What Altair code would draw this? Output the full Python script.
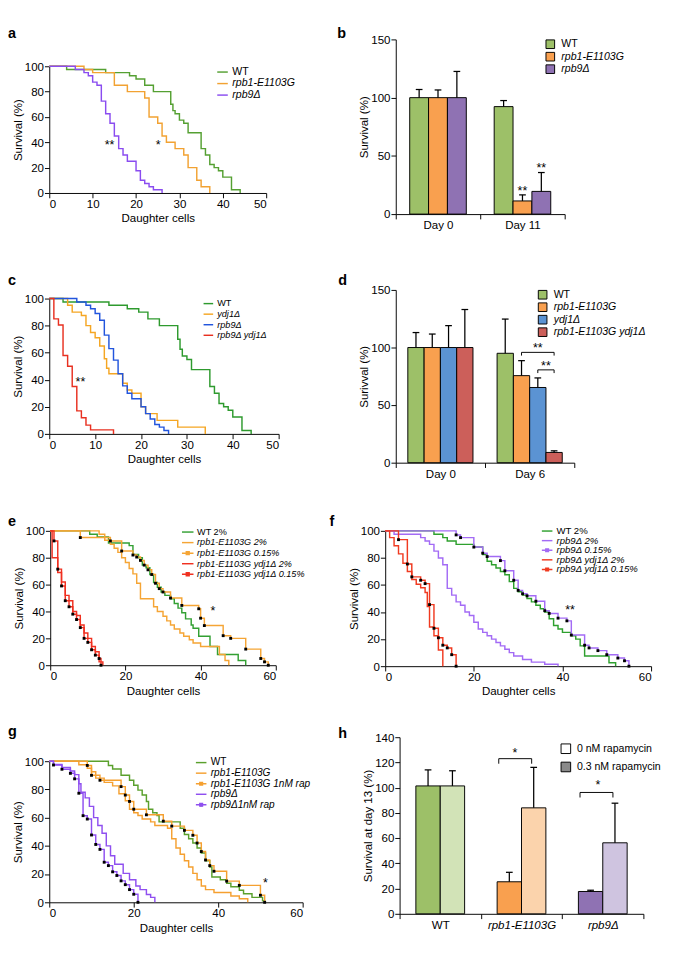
import altair as alt
import pandas as pd

FONT = "Liberation Sans"

# ---------------- Panel a ----------------
a_names = ["WT", "rpb1-E1103G", "rpb9Δ"]
a_colors = ["#55a032", "#f2a232", "#8a4cf0"]
a_wt_x = [0, 4, 13, 18.5, 20, 22, 24, 28, 28.5, 29, 30, 31, 32, 35, 36, 37, 38, 39, 40, 42, 44]
a_wt_y = [100, 97.5, 95, 92.5, 90, 85, 80, 70, 65, 62.5, 57.5, 55, 47.5, 35, 30, 22.5, 20, 17.5, 12.5, 2.5, 0]
a_rpb1_x = [0, 8, 10, 15, 18, 22, 23, 25, 26, 27, 29, 31, 32, 34, 35, 37]
a_rpb1_y = [100, 97.5, 95, 85, 80, 75, 60, 55, 45, 40, 35, 30, 20, 10, 5, 0]
a_rpb9_x = [0, 6, 8, 9, 10, 11, 12, 13, 14, 15, 16, 17, 18, 20, 21, 22, 23, 24, 26]
a_rpb9_y = [100, 97.5, 95, 92.5, 87.5, 85, 72.5, 62.5, 55, 45, 35, 30, 25, 17.5, 10, 7.5, 5, 2.5, 0]
a_star_x = [13.9, 25.1]
a_star_y = [40, 40]
a_star_t = ["**", "*"]

# ---------------- Panel c ----------------
c_names = ["WT", "ydj1Δ", "rpb9Δ", "rpb9Δ ydj1Δ"]
c_colors = ["#2e9a2e", "#f5a623", "#2255dd", "#e83020"]
c_wt_x = [0, 3, 13, 17, 19.5, 21.5, 24, 28, 28.5, 29, 30, 31, 35, 36, 37, 38, 39, 40, 42, 44]
c_wt_y = [100, 97.5, 95, 92.5, 90, 85, 80, 70, 62.5, 57.5, 55, 47.5, 35, 30, 22.5, 20, 17.5, 12.5, 2.5, 0]
c_ydj_x = [0, 4, 5, 7, 8, 9, 10, 11, 12, 12.5, 13, 16, 17, 18, 20, 21, 23.5, 28, 34]
c_ydj_y = [100, 95, 90, 87.5, 80, 75, 71, 65, 55.5, 48.5, 44.5, 37.5, 32.5, 30, 20, 15, 10, 5, 0]
c_rpb9_x = [0, 6, 8, 9, 10, 11, 12, 13, 14, 15, 16, 17, 18, 20, 21, 22, 23, 24, 25, 26]
c_rpb9_y = [100, 97.5, 95, 92.5, 89, 84, 73, 63, 54.5, 44.5, 35.5, 30, 26, 20, 15, 11, 7, 5, 2.5, 0]
c_dbl_x = [0, 1, 2, 3, 4, 5, 6, 7, 8, 9, 14]
c_dbl_y = [100, 85, 80.5, 58, 50, 35, 17, 12, 6.5, 3, 0]
c_star_x = [6.8]
c_star_y = [40]
c_star_t = ["**"]

# ---------------- Panel e ----------------
e_names = ["WT 2%", "rpb1-E1103G 2%", "rpb1-E1103G 0.15%", "rpb1-E1103G ydj1Δ 2%", "rpb1-E1103G ydj1Δ 0.15%"]
e_colors = ["#33a033", "#f5a535", "#f5a535", "#f03020", "#f03020"]
e_dotted = ["rpb1-E1103G 0.15%", "rpb1-E1103G ydj1Δ 0.15%"]
e_wt_x = [0, 10.5, 12.5, 15.5, 21, 22, 23.5, 24.5, 25.5, 26.5, 27.5, 28.5, 29.5, 30.5, 32, 33, 34, 35, 36, 37.5, 38, 39.5, 42.5, 44.5, 50, 52]
e_wt_y = [100, 97.5, 95.5, 91, 89, 82.5, 80, 74.5, 72.5, 67.5, 61.5, 58, 54.5, 52, 49.5, 46, 42.5, 39, 34.5, 30, 27.5, 21.5, 14, 8, 3.5, 0]
e_o2_x = [0, 13, 14.5, 16, 17, 18, 19, 20, 21, 22, 23, 24, 27.5, 28.5, 30, 31, 32, 33, 34.5, 35.5, 37, 38, 40, 45, 46.5, 47.5]
e_o2_y = [100, 97.5, 93, 90, 87, 84, 80, 76.5, 72, 68, 61, 49.5, 43.5, 40, 36.5, 33, 30, 27, 24, 21.5, 19, 16.5, 14, 8, 3.5, 0]
e_o15_x = [0, 8, 16, 19, 22, 23, 24, 25, 26, 27, 28, 29, 30, 32, 35, 39.5, 40, 41, 46, 48, 52, 56, 57, 58]
e_o15_y = [100, 95, 92.5, 85, 82, 80.5, 78, 74.5, 71, 67.5, 61, 57, 54.5, 50, 44.5, 42, 35, 29.5, 22, 20, 12, 5, 2.5, 0]
e_r2_x = [0, 0.5, 2, 3, 4, 5, 6, 7, 8, 9, 10, 11, 12, 13, 14]
e_r2_y = [100, 80, 69, 62, 52, 48, 40, 37, 30, 24, 20, 14, 10, 2.5, 0]
e_r15_x = [0, 1, 2, 3, 4, 5, 6, 7, 8, 9, 10, 11, 12, 13, 13.5]
e_r15_y = [100, 92.5, 71.5, 59, 48, 43.5, 38, 34, 28, 20, 17, 11.5, 7.5, 5, 0]
e_star_x = [43.3]
e_star_y = [42.7]
e_star_t = ["*"]

# ---------------- Panel f ----------------
f_names = ["WT 2%", "rpb9Δ 2%", "rpb9Δ 0.15%", "rpb9Δ ydj1Δ 2%", "rpb9Δ ydj1Δ 0.15%"]
f_colors = ["#2ea02e", "#a36bf5", "#a36bf5", "#f03a20", "#f03a20"]
f_dotted = ["rpb9Δ 0.15%", "rpb9Δ ydj1Δ 0.15%"]
f_wt_x = [0, 11, 13, 14, 16, 20, 22, 23, 24, 25, 26, 27, 28, 29, 30, 31, 32, 33, 34, 35, 36, 37, 38, 39, 40, 42, 43, 44, 45, 50.5, 52]
f_wt_y = [100, 97.5, 95, 92.5, 90, 88, 82.5, 77.5, 75, 72.5, 70, 67.5, 62.5, 57.5, 55, 52.5, 50, 47.5, 45, 42.5, 40, 35, 30, 27.5, 25, 22.5, 20, 15, 7.5, 2.5, 0]
f_p2_x = [0, 2, 8, 9, 10, 11, 12, 13, 14, 15, 16, 17, 18, 19, 20, 21, 22, 23, 24, 25, 26, 27, 28, 29, 31, 33, 36, 39]
f_p2_y = [100, 97.5, 95, 92.5, 90, 85, 80, 75, 57.5, 52.5, 47.5, 45, 40, 37.5, 32.5, 27.5, 25, 22.5, 20, 17.5, 15, 12.5, 10, 7.5, 5, 3, 1.5, 0]
f_p15_x = [0, 16, 17, 20, 22, 23, 26, 27, 29, 30, 31, 32, 34, 36, 37, 39, 41, 42, 45, 46, 48, 50, 52.5, 54, 55]
f_p15_y = [100, 97, 95, 88, 83.5, 81, 78, 70.5, 63.5, 56, 53.5, 52, 48, 41, 39, 35.5, 33.5, 23, 15.5, 13.5, 11.5, 8.5, 6, 4, 0]
f_r2_x = [0, 1, 2, 3, 4, 5, 6, 7, 8, 9, 9.5, 10, 11, 12, 13]
f_r2_y = [100, 95, 89, 83, 76, 70, 64, 60.5, 58, 54.5, 44, 29, 22.5, 12, 0]
f_r15_x = [0, 3, 5, 6, 8, 9, 10, 11, 12, 13, 14, 15, 16]
f_r15_y = [100, 93.5, 75.5, 66, 63.5, 61, 45.5, 28, 21, 15.5, 13.5, 8.5, 0]
f_star_x = [41.7]
f_star_y = [43.3]
f_star_t = ["**"]

# ---------------- Panel g ----------------
g_names = ["WT", "rpb1-E1103G", "rpb1-E1103G 1nM rap", "rpb9Δ", "rpb9Δ1nM rap"]
g_colors = ["#5aa02c", "#f5a030", "#f5a030", "#8f4ff0", "#8f4ff0"]
g_dotted = ["rpb1-E1103G 1nM rap", "rpb9Δ1nM rap"]
g_wt_x = [0, 14, 15, 17, 19, 20, 21, 22, 23, 23.5, 24.5, 25.5, 26, 31, 32, 33, 34, 35, 36, 37, 38, 38.5, 40.5, 42, 43, 45, 46, 48, 50.5, 51]
g_wt_y = [100, 97, 94.5, 90, 86.5, 83, 79.5, 76, 71.5, 66, 63.5, 61.5, 57, 52.5, 48, 45, 42, 38.5, 35, 29.5, 25, 18, 16, 13.5, 11, 8.5, 6, 3.5, 1, 0]
g_o_x = [0, 7, 9, 10, 11, 13, 15, 16.5, 18, 19, 20, 21, 22, 24, 25, 28, 29, 30, 31, 32, 33, 34, 35, 36, 37, 39, 43, 45, 47]
g_o_y = [100, 97.5, 95, 92.5, 88, 85, 82.5, 77, 72, 66, 63.5, 61.5, 59, 57, 54.5, 52.5, 45, 38.5, 34, 29.5, 25, 20.5, 16, 11.5, 9, 7, 4.5, 2.5, 0]
g_o1_x = [0, 9, 10, 12, 17, 18, 19, 20, 23, 27, 29, 32, 34, 35, 36, 37, 38, 39, 42, 45, 50, 51]
g_o1_y = [100, 97, 90, 86.5, 82, 76, 71.5, 66, 62, 57.5, 54, 51, 47.5, 42, 36, 30, 26, 22, 15, 12, 5, 0]
g_p_x = [0, 1, 3, 5, 6, 7, 7.5, 8.5, 9.5, 10.5, 11.5, 12.5, 13.5, 14.5, 15.5, 17.5, 19, 20.5, 21.5, 23, 24, 25]
g_p_y = [100, 97.7, 95.5, 93, 90.5, 84, 78, 74, 68, 60, 54.5, 49, 40, 33, 27, 20.5, 16, 11.5, 9, 5.5, 3.5, 0]
g_p1_x = [0, 1, 3, 5, 6, 7, 8, 9, 10, 11, 12, 13, 14, 15, 16, 17, 18, 19, 20, 21]
g_p1_y = [100, 97.3, 94.3, 91.4, 87.5, 77.3, 61.4, 59, 47.7, 41, 37.5, 28.4, 26, 21.6, 19, 15.2, 12.5, 9, 5.7, 0]
g_star_x = [51.2]
g_star_y = [15.5]
g_star_t = ["*"]

# ---------------- Panel b ----------------
b_groups = ["Day 0", "Day 11"]
b_members = ["WT", "rpb1-E1103G", "rpb9Δ"]
b_colors = ["#9dc068", "#f9a04f", "#8f72b3"]
b_values = [100, 100, 100, 92.3, 11.3, 19.5]
b_errors = [7, 6.6, 22.5, 5.2, 5.2, 16.2]
b_star_member = ["rpb1-E1103G", "rpb9Δ"]
b_star_group = ["Day 11", "Day 11"]
b_star_y = [22.5, 42]
b_star_t = ["**", "**"]

# ---------------- Panel d ----------------
d_groups = ["Day 0", "Day 6"]
d_members = ["WT", "rpb1-E1103G", "ydj1Δ", "rpb1-E1103G ydj1Δ"]
d_colors = ["#9dc068", "#f9a04f", "#5b93d3", "#cc5f5a"]
d_values = [100, 100, 100, 100, 95, 75.6, 65.3, 8.9]
d_errors = [13, 11.7, 19, 33, 29.7, 13, 8.3, 1.4]
d_br_from = ["rpb1-E1103G", "ydj1Δ"]
d_br_to = ["rpb1-E1103G ydj1Δ", "rpb1-E1103G ydj1Δ"]
d_br_group = ["Day 6", "Day 6"]
d_br_y = [95.8, 80.6]
d_br_star_y = [102, 86.7]
d_br_t = ["**", "**"]

# ---------------- Panel h ----------------
h_groups = ["WT", "rpb1-E1103G", "rpb9Δ"]
h_members = ["0 nM rapamycin", "0.3 nM rapamycin"]
h_bar_colors = ["#9dc068", "#d2e3b7", "#f9a04f", "#fbd3ac", "#8f72b3", "#cfc4e0"]
h_legend_colors = ["white", "#8a8a8a"]
h_values = [101.4, 101.4, 25.4, 84, 17.7, 56.3]
h_errors = [12.7, 12, 7.5, 32.1, 1, 31.4]
h_br_group = ["rpb1-E1103G", "rpb9Δ"]
h_br_left = [-0.28, -0.28]
h_br_right = [0.125, 0.125]
h_br_y = [123, 96.2]
h_br_star_dx = [-0.08, -0.06]
h_br_star_y = [130, 104]
h_br_t = ["*", "*"]

# ---------------- layout (pixels) ----------------
W_LEFT, W_RIGHT = 332, 337
ROW_H = [254, 253, 219, 212]

LINE_PATH = "M-2,0H2"
DOT_PATH = "M-2,0H2M-0.5,-0.5H0.5V0.5H-0.5Z"


def letter_layer(letter, pos):
    return alt.Chart(pd.DataFrame({"t": [letter]})).mark_text(
        font=FONT, fontSize=15, fontWeight="bold", color="black", align="left",
        baseline="alphabetic").encode(x=alt.value(pos[0]), y=alt.value(pos[1]), text="t:N")


def curve_panel(letter, names, colors, curves, dotted, stars, xmax, xstep, W, R, geo, leg, lpos):
    x0, x1, yt, yb = geo
    frames = []
    for name, xs_, ys_ in curves:
        frames.append(pd.DataFrame({"series": name, "x": xs_, "y": ys_,
                                    "i": list(range(len(xs_)))}))
    df = pd.concat(frames, ignore_index=True)
    xsc = alt.Scale(domain=[0, xmax], nice=False, range=[x0, x1])
    ysc = alt.Scale(domain=[0, 100], nice=False, range=[yb, yt])
    xax = alt.Axis(values=list(range(0, xmax + 1, xstep)), title="Daughter cells", offset=-(R - yb))
    yax = alt.Axis(values=[0, 20, 40, 60, 80, 100], title="Survival (%)", offset=-x0)
    X = alt.X("x:Q", scale=xsc, axis=xax)
    Y = alt.Y("y:Q", scale=ysc, axis=yax)
    sscale = alt.Scale(domain=names, range=colors)
    lx, ly, fs, L = leg
    lg = alt.Legend(orient="none", legendX=lx, legendY=ly, title=None, labelFont=FONT,
                    labelFontSize=fs, labelColor="black",
                    labelFontStyle={"expr": "indexof(datum.label, 'WT') == 0 ? 'normal' : 'italic'"},
                    symbolSize=(L / 2) ** 2, symbolStrokeWidth=1.5, rowPadding=0,
                    labelOffset=L / 4 + 2, padding=0, symbolOpacity=1)
    layers = [alt.Chart(df).mark_line(interpolate="step-after", strokeWidth=1.5).encode(
        x=X, y=Y, stroke=alt.Stroke("series:N", scale=sscale, legend=lg), order="i:Q")]
    dots = df[df["series"].isin(dotted) & (df["i"] > 0)]
    if len(dots):
        layers.append(alt.Chart(dots).mark_square(size=9, color="black", opacity=1).encode(x=X, y=Y))
    st = pd.DataFrame({"x": stars[0], "y": stars[1], "t": stars[2]})
    layers.append(alt.Chart(st).mark_text(font=FONT, fontSize=13, color="black", dy=3).encode(
        x=X, y=Y, text="t:N"))
    shp = [DOT_PATH if n in dotted else LINE_PATH for n in names]
    ldf = pd.DataFrame({"series": names})
    layers.append(alt.Chart(ldf).mark_point(filled=True, fill="black", strokeWidth=1.5,
                                            clip=True).encode(
        x=alt.value(-300), y=alt.value(-300),
        stroke=alt.Stroke("series:N", scale=sscale, legend=lg),
        shape=alt.Shape("series:N", scale=alt.Scale(domain=names, range=shp), legend=lg)))
    layers.append(letter_layer(letter, lpos))
    return alt.layer(*layers).properties(width=W, height=R)


def bar_frame(groups, members, values, errors, gw):
    rows = []
    k = len(members)
    for gi, g in enumerate(groups):
        for j, m in enumerate(members):
            x0 = gi - gw / 2 + j * gw / k
            rows.append({"group": g, "member": m, "key": g + "|" + m, "x0": x0,
                         "x1": x0 + gw / k, "xc": x0 + gw / (2 * k)})
    df = pd.DataFrame(rows)
    df["v"] = values
    df["base"] = 0
    df["top"] = [v + e for v, e in zip(values, errors)]
    return df


def bar_scales(groups, R, geo, ymax, ystep, ytitle, italic_x):
    x0, x1, yt, yb = geo
    n = len(groups)
    arr = "[" + ",".join("'" + g + "'" for g in groups) + ",'']"
    fstyle = ({"condition": {"test": "datum.value > 0", "value": "italic"}, "value": "normal"}
              if italic_x else "normal")
    xsc = alt.Scale(domain=[-0.5, n - 0.5], nice=False, zero=False, range=[x0, x1])
    xax = alt.Axis(values=[i - 0.5 for i in range(n + 1)],
                   labelExpr=arr + "[round(datum.value + 0.5)]", labelOffset=(x1 - x0) / n / 2,
                   labelFlush=False, labelOverlap=False, title=None, labelFontStyle=fstyle,
                   offset=-(R - yb))
    ysc = alt.Scale(domain=[0, ymax], nice=False, range=[yb, yt])
    yax = alt.Axis(values=list(range(0, ymax + 1, ystep)), title=ytitle, offset=-x0)
    return xsc, xax, ysc, yax


def bar_common_layers(df, xsc, xax, ysc, yax, color):
    bars = alt.Chart(df).mark_bar(stroke="black", strokeWidth=1).encode(
        x=alt.X("x0:Q", scale=xsc, axis=xax), x2="x1:Q",
        y=alt.Y("v:Q", scale=ysc, axis=yax), y2="base:Q", color=color)
    err = alt.Chart(df).mark_rule(color="black", strokeWidth=1.3).encode(
        x=alt.X("xc:Q", scale=xsc, axis=xax), y=alt.Y("v:Q", scale=ysc, axis=yax), y2="top:Q")
    cap = alt.Chart(df).mark_point(shape="stroke", size=49, color="black", strokeWidth=1.3,
                                   opacity=1).encode(
        x=alt.X("xc:Q", scale=xsc, axis=xax), y=alt.Y("top:Q", scale=ysc, axis=yax))
    return [bars, err, cap]


def bracket_layers(xa, xb, yl, legs, xsc, xax, ysc, yax):
    bdf = pd.DataFrame({"xa": xa, "xb": xb, "yl": yl, "yd": [y - legs for y in yl]})
    hl = alt.Chart(bdf).mark_rule(color="black", strokeWidth=1).encode(
        x=alt.X("xa:Q", scale=xsc, axis=xax), x2="xb:Q", y=alt.Y("yl:Q", scale=ysc, axis=yax))
    l1 = alt.Chart(bdf).mark_rule(color="black", strokeWidth=1).encode(
        x=alt.X("xa:Q", scale=xsc, axis=xax), y=alt.Y("yl:Q", scale=ysc, axis=yax), y2="yd:Q")
    l2 = alt.Chart(bdf).mark_rule(color="black", strokeWidth=1).encode(
        x=alt.X("xb:Q", scale=xsc, axis=xax), y=alt.Y("yl:Q", scale=ysc, axis=yax), y2="yd:Q")
    return [hl, l1, l2]


def star_layer(xs_, ys_, ts, xsc, xax, ysc, yax):
    sdf = pd.DataFrame({"sx": xs_, "sy": ys_, "t": ts})
    return alt.Chart(sdf).mark_text(font=FONT, fontSize=13, color="black", dy=3).encode(
        x=alt.X("sx:Q", scale=xsc, axis=xax), y=alt.Y("sy:Q", scale=ysc, axis=yax), text="t:N")


def square_legend(lx, ly, size, rp, italic):
    style = ({"expr": "datum.label == 'WT' ? 'normal' : 'italic'"} if italic else "normal")
    return alt.Legend(orient="none", legendX=lx, legendY=ly, title=None, symbolType="square",
                      symbolSize=size, symbolStrokeColor="black", symbolStrokeWidth=1,
                      symbolOpacity=1, labelFont=FONT, labelFontSize=11, labelColor="black",
                      labelFontStyle=style, rowPadding=rp, labelOffset=6, padding=0)


# ---------- curve panels ----------
pa = curve_panel("a", a_names, a_colors,
                 [("WT", a_wt_x, a_wt_y), ("rpb1-E1103G", a_rpb1_x, a_rpb1_y), ("rpb9Δ", a_rpb9_x, a_rpb9_y)],
                 [], (a_star_x, a_star_y, a_star_t), 50, 10, W_LEFT, ROW_H[0],
                 (43, 269, 41, 173), (218, 41.5, 11, 11), (0, 12))
pc = curve_panel("c", c_names, c_colors,
                 [("WT", c_wt_x, c_wt_y), ("ydj1Δ", c_ydj_x, c_ydj_y), ("rpb9Δ", c_rpb9_x, c_rpb9_y),
                  ("rpb9Δ ydj1Δ", c_dbl_x, c_dbl_y)],
                 [], (c_star_x, c_star_y, c_star_t), 50, 10, W_LEFT, ROW_H[1],
                 (43, 282, 29, 170), (204, 29.5, 9.5, 10), (0, 15))
pe = curve_panel("e", e_names, e_colors,
                 [("WT 2%", e_wt_x, e_wt_y), ("rpb1-E1103G 2%", e_o2_x, e_o2_y),
                  ("rpb1-E1103G 0.15%", e_o15_x, e_o15_y), ("rpb1-E1103G ydj1Δ 2%", e_r2_x, e_r2_y),
                  ("rpb1-E1103G ydj1Δ 0.15%", e_r15_x, e_r15_y)],
                 e_dotted, (e_star_x, e_star_y, e_star_t), 60, 20, W_LEFT, ROW_H[2],
                 (44, 279, 18, 158), (182.5, 14.5, 9.5, 12), (0, 13))
pg = curve_panel("g", g_names, g_colors,
                 [("WT", g_wt_x, g_wt_y), ("rpb1-E1103G", g_o_x, g_o_y),
                  ("rpb1-E1103G 1nM rap", g_o1_x, g_o1_y), ("rpb9Δ", g_p_x, g_p_y),
                  ("rpb9Δ1nM rap", g_p1_x, g_p1_y)],
                 g_dotted, (g_star_x, g_star_y, g_star_t), 60, 20, W_LEFT, ROW_H[3],
                 (43, 307, 39, 186), (196, 35.2, 10.5, 11), (0, 13))
pf = curve_panel("f", f_names, f_colors,
                 [("WT 2%", f_wt_x, f_wt_y), ("rpb9Δ 2%", f_p2_x, f_p2_y),
                  ("rpb9Δ 0.15%", f_p15_x, f_p15_y), ("rpb9Δ ydj1Δ 2%", f_r2_x, f_r2_y),
                  ("rpb9Δ ydj1Δ 0.15%", f_r15_x, f_r15_y)],
                 f_dotted, (f_star_x, f_star_y, f_star_t), 60, 20, W_RIGHT, ROW_H[2],
                 (61, 338, 18, 159), (224.7, 13.2, 10, 11), (3, 13))

# ---------- panel b ----------
b_geo = (72, 248, 13, 195)
b_df = bar_frame(b_groups, b_members, b_values, b_errors, 0.67)
bx, bxa, by, bya = bar_scales(b_groups, ROW_H[0], b_geo, 150, 50, "Survival (%)", False)
b_color = alt.Color("member:N", scale=alt.Scale(domain=b_members, range=b_colors),
                    legend=square_legend(227.5, 12.5, 81, 0, True))
b_sx = [b_df[(b_df.group == g) & (b_df.member == m)].xc.iloc[0] for g, m in zip(b_star_group, b_star_member)]
pb = alt.layer(*bar_common_layers(b_df, bx, bxa, by, bya, b_color),
               star_layer(b_sx, b_star_y, b_star_t, bx, bxa, by, bya),
               letter_layer("b", (11, 12))).properties(width=W_RIGHT, height=ROW_H[0])

# ---------- panel d ----------
d_geo = (72, 258, 20, 200)
d_df = bar_frame(d_groups, d_members, d_values, d_errors, 0.73)
dx_, dxa, dy_, dya = bar_scales(d_groups, ROW_H[1], d_geo, 150, 50, "Surivval (%)", False)
d_color = alt.Color("member:N", scale=alt.Scale(domain=d_members, range=d_colors),
                    legend=square_legend(219.5, 19.5, 81, 0, True))
d_xa = [d_df[(d_df.group == g) & (d_df.member == m)].xc.iloc[0] for g, m in zip(d_br_group, d_br_from)]
d_xb = [d_df[(d_df.group == g) & (d_df.member == m)].xc.iloc[0] for g, m in zip(d_br_group, d_br_to)]
d_sx = [(a + b) / 2 for a, b in zip(d_xa, d_xb)]
pd_ = alt.layer(*bar_common_layers(d_df, dx_, dxa, dy_, dya, d_color),
                *bracket_layers(d_xa, d_xb, d_br_y, 2.8, dx_, dxa, dy_, dya),
                star_layer(d_sx, d_br_star_y, d_br_t, dx_, dxa, dy_, dya),
                letter_layer("d", (12, 15))).properties(width=W_RIGHT, height=ROW_H[1])

# ---------- panel h ----------
h_geo = (76, 330, 14, 198)
h_df = bar_frame(h_groups, h_members, h_values, h_errors, 0.6)
hx, hxa, hy, hya = bar_scales(h_groups, ROW_H[3], h_geo, 140, 20, "Survival at day 13 (%)", True)
h_color = alt.Color("key:N", scale=alt.Scale(domain=list(h_df.key), range=h_bar_colors), legend=None)
h_gidx = [h_groups.index(g) for g in h_br_group]
h_xa = [gi + o for gi, o in zip(h_gidx, h_br_left)]
h_xb = [gi + o for gi, o in zip(h_gidx, h_br_right)]
h_sx = [gi + o for gi, o in zip(h_gidx, h_br_star_dx)]
h_leg_df = pd.DataFrame({"member": h_members})
h_leg = alt.Chart(h_leg_df).mark_point(shape="square", filled=True, stroke="black", strokeWidth=1,
                                       clip=True).encode(
    x=alt.value(-300), y=alt.value(-300),
    fill=alt.Fill("member:N", scale=alt.Scale(domain=h_members, range=h_legend_colors),
                  legend=square_legend(243.7, 20.5, 100, 4, False)))
ph = alt.layer(*bar_common_layers(h_df, hx, hxa, hy, hya, h_color),
               *bracket_layers(h_xa, h_xb, h_br_y, 4, hx, hxa, hy, hya),
               star_layer(h_sx, h_br_star_y, h_br_t, hx, hxa, hy, hya),
               h_leg, letter_layer("h", (12, 15))).properties(width=W_RIGHT, height=ROW_H[3])

IND = dict(color="independent", stroke="independent", shape="independent", fill="independent")
chart = alt.concat(pa, pb, pc, pd_, pe, pf, pg, ph, columns=2, spacing=0, bounds="flush",
                   align="each").resolve_scale(**IND).properties(
    padding={"left": 0, "top": 0, "right": -8, "bottom": -1}, background="white"
).configure_axis(
    domainColor="black", tickColor="black", labelColor="black", titleColor="black",
    labelFont=FONT, titleFont=FONT, labelFontSize=12, titleFontSize=12,
    titleFontWeight="normal", grid=False, tickSize=5, labelPadding=1,
    domainWidth=1, tickWidth=1
).configure_axisX(titlePadding=4).configure_axisY(titlePadding=0).configure_view(stroke=None)

chart.save("out.html", embed_options={"renderer": "svg", "actions": False})
